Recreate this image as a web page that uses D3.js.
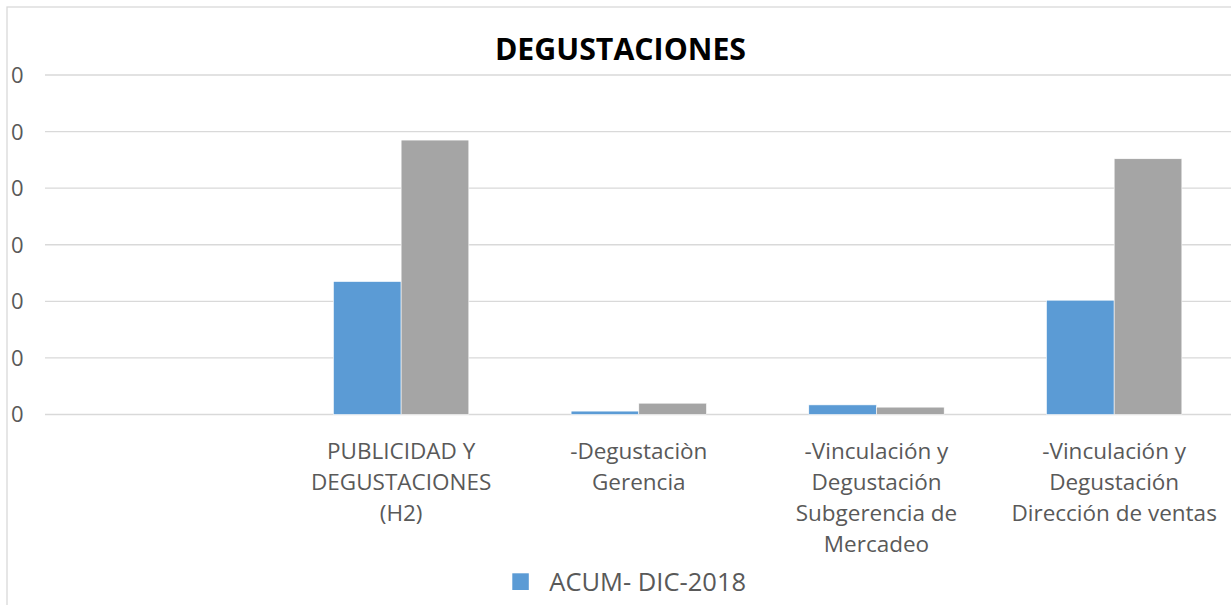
<!DOCTYPE html>
<html><head><meta charset="utf-8">
<script src="https://cdn.jsdelivr.net/npm/d3@7"></script>
<style>html,body{margin:0;padding:0;background:#fff;overflow:hidden}</style>
</head><body>
<svg id="chart" width="1231" height="605"></svg>
<script>
const title = "DEGUSTACIONES";
const categories = ["", "PUBLICIDAD Y DEGUSTACIONES (H2)", "-Degustaciòn Gerencia", "-Vinculación y Degustación Subgerencia de Mercadeo", "-Vinculación y Degustación Dirección de ventas"];
const categoryLines = [[], ["PUBLICIDAD Y", "DEGUSTACIONES", "(H2)"], ["-Degustaciòn", "Gerencia"], ["-Vinculación y", "Degustación", "Subgerencia de", "Mercadeo"], ["-Vinculación y", "Degustación", "Dirección de ventas"]];
const seriesNames = ["ACUM- DIC-2018", ""];
const seriesA = [null, 2.35, 0.06, 0.17, 2.02];
const seriesB = [null, 4.85, 0.20, 0.13, 4.52];
const yTicks = [0, 1, 2, 3, 4, 5, 6];
const yTickLabels = ["0", "0", "0", "0", "0", "0", "0"];
const colors = ["#5b9bd5", "#a5a5a5"];

const svg = d3.select("#chart");
const font = "'Open Sans', sans-serif";
const textColor = "#595959";

// chart border
svg.append("rect").attr("x", 7).attr("y", 7).attr("width", 1300).attr("height", 700)
  .attr("fill", "#fff").attr("stroke", "#d9d9d9").attr("stroke-width", 1.3);

const x = d3.scaleBand().domain(d3.range(categories.length)).range([44.6, 1233]);
const y = d3.scaleLinear().domain([0, 6]).range([414.5, 75]);
const groupW = 135.4;
const xs = d3.scaleBand().domain([0, 1]).range([0, groupW]);

// gridlines
svg.append("g").selectAll("line").data(yTicks).join("line")
  .attr("x1", 45).attr("x2", 1231)
  .attr("y1", d => y(d)).attr("y2", d => y(d))
  .attr("stroke", "#d9d9d9").attr("stroke-width", 1.3);

// y tick labels
svg.append("g").selectAll("text").data(yTicks).join("text")
  .attr("x", 23.5).attr("y", d => y(d)).attr("dy", "0.36em")
  .attr("text-anchor", "end").attr("font-family", font).attr("font-size", 22)
  .attr("fill", textColor).text((d, i) => yTickLabels[i]);

// bars
const series = [seriesA, seriesB];
series.forEach((vals, si) => {
  svg.append("g").selectAll("rect").data(vals.map((v, i) => ({v, i})).filter(d => d.v != null)).join("rect")
    .attr("x", d => x(d.i) + x.bandwidth() / 2 - groupW / 2 + xs(si))
    .attr("width", xs.bandwidth())
    .attr("y", d => y(d.v))
    .attr("height", d => y(0) - y(d.v))
    .attr("fill", colors[si])
    .attr("stroke", "#fff").attr("stroke-width", 0.6);
});

// category labels
const cat = svg.append("g");
categoryLines.forEach((lines, i) => {
  const t = cat.append("text").attr("text-anchor", "middle")
    .attr("font-family", font).attr("font-size", 22.5).attr("fill", textColor);
  lines.forEach((ln, j) => {
    t.append("tspan").attr("x", x(i) + x.bandwidth() / 2).attr("y", 458.5 + j * 31.2).text(ln);
  });
});

// title
svg.append("text").attr("x", 620.5).attr("y", 59.5).attr("text-anchor", "middle")
  .attr("font-family", font).attr("font-weight", "bold").attr("font-size", 30.3)
  .attr("fill", "#000").text(title);

// legend
svg.append("rect").attr("x", 512.3).attr("y", 573.3).attr("width", 16.5).attr("height", 16.7).attr("fill", colors[0]);
svg.append("text").attr("x", 549.3).attr("y", 591).attr("font-family", font).attr("font-size", 25.5)
  .attr("fill", textColor).text(seriesNames[0]);
</script>
</body></html>
